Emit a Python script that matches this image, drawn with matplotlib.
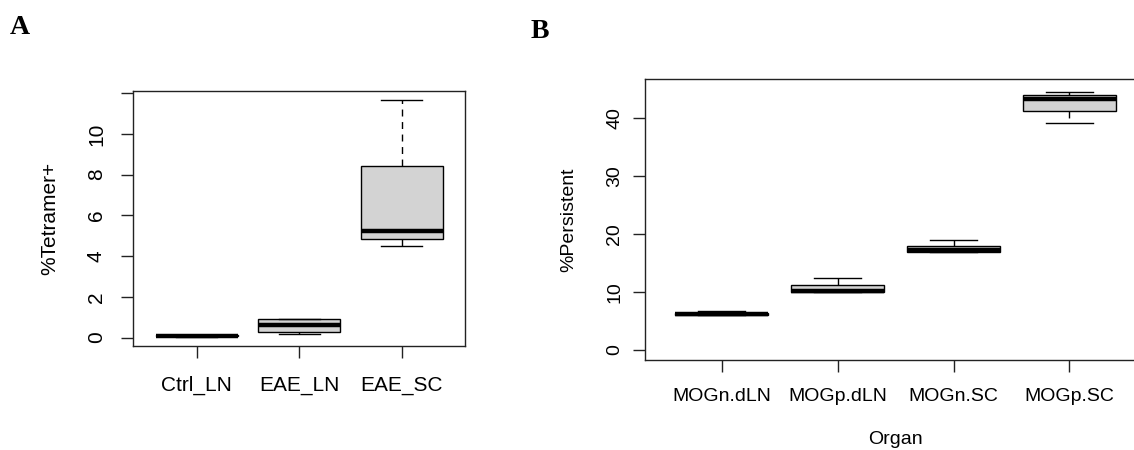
"""Two R-style boxplot panels: %Tetramer+ by group (A), %Persistent by organ (B)."""

import matplotlib

matplotlib.use("Agg")
import matplotlib.pyplot as plt

# ---------------------------------------------------------------------------
# Data (five-number summaries)
# ---------------------------------------------------------------------------
groups_a = ["Ctrl_LN", "EAE_LN", "EAE_SC"]
low_a = [0.05, 0.20, 4.48]
q1_a = [0.08, 0.28, 4.84]
med_a = [0.10, 0.63, 5.22]
q3_a = [0.12, 0.90, 8.42]
high_a = [0.15, 0.92, 11.64]
yticks_a = [0, 2, 4, 6, 8, 10, 12]
yticklabels_a = ["0", "2", "4", "6", "8", "10", ""]

organs_b = ["MOGn.dLN", "MOGp.dLN", "MOGn.SC", "MOGp.SC"]
low_b = [5.9, 9.9, 16.8, 39.2]
q1_b = [6.0, 10.0, 16.9, 41.35]
med_b = [6.1, 10.15, 17.2, 43.4]
q3_b = [6.25, 11.25, 18.0, 44.0]
high_b = [6.6, 12.3, 18.9, 44.5]
yticks_b = [0, 10, 20, 30, 40]

FONT = "Liberation Sans"
GREY = "#d3d3d3"


def _stats(labels, lo, q1, med, q3, hi):
    return [
        dict(label=l, whislo=a, q1=b, med=c, q3=d, whishi=e, fliers=[])
        for l, a, b, c, d, e in zip(labels, lo, q1, med, q3, hi)
    ]


def _boxplot(ax, stats):
    ax.bxp(
        stats,
        widths=0.8,
        patch_artist=True,
        showfliers=False,
        boxprops=dict(facecolor=GREY, edgecolor="black", linewidth=1.0),
        medianprops=dict(color="black", linewidth=3.2, solid_capstyle="butt"),
        whiskerprops=dict(color="black", linewidth=1.0, linestyle=(0, (5, 4))),
        capprops=dict(color="black", linewidth=1.0),
    )
    for sp in ax.spines.values():
        sp.set_linewidth(1.0)
        sp.set_color("#222222")
    ax.tick_params(direction="out", length=8.5, width=1.0, color="#222222")


def _rlim(lo, hi):
    # R pads the data range by 4% on each side
    pad = (hi - lo) * 0.04
    return lo - pad, hi + pad


fig = plt.figure(figsize=(11.34, 4.5), dpi=100)

# Panel A
ax_a = fig.add_axes([0.1173, 0.2311, 0.2928, 0.5667])
_boxplot(ax_a, _stats(groups_a, low_a, q1_a, med_a, q3_a, high_a))
ax_a.set_xlim(*_rlim(0.5, len(groups_a) + 0.5))
ax_a.set_ylim(*_rlim(min(low_a), max(high_a)))
ax_a.set_yticks(yticks_a)
ax_a.set_yticklabels(yticklabels_a, rotation=90, va="center", family=FONT, fontsize=15)
ax_a.set_xticks(range(1, len(groups_a) + 1))
ax_a.set_xticklabels(groups_a, family=FONT, fontsize=15)
ax_a.tick_params(axis="y", pad=11)
ax_a.tick_params(axis="x", pad=13)
ax_a.set_ylabel("%Tetramer+", family=FONT, fontsize=15, labelpad=20)

# Panel B (right edge runs past the image, as in the original crop)
ax_b = fig.add_axes([0.5688, 0.2, 0.4418, 0.6244])
_boxplot(ax_b, _stats(organs_b, low_b, q1_b, med_b, q3_b, high_b))
ax_b.set_xlim(*_rlim(0.5, len(organs_b) + 0.5))
ax_b.set_ylim(*_rlim(0, 45))
ax_b.set_yticks(yticks_b)
ax_b.set_yticklabels([str(t) for t in yticks_b], rotation=90, va="center",
                     family=FONT, fontsize=14)
ax_b.set_xticks(range(1, len(organs_b) + 1))
ax_b.set_xticklabels(organs_b, family=FONT, fontsize=14)
ax_b.tick_params(axis="y", pad=7)
ax_b.tick_params(axis="x", pad=11.5)
ax_b.set_ylabel("%Persistent", family=FONT, fontsize=14, labelpad=21)
ax_b.set_xlabel("Organ", family=FONT, fontsize=14, labelpad=19)

# Panel letters
fig.text(20 / 1134, 1 - 27 / 450, "A", family="Liberation Serif", weight="bold",
         fontsize=20, ha="center", va="center")
fig.text(540 / 1134, 1 - 31 / 450, "B", family="Liberation Serif", weight="bold",
         fontsize=20, ha="center", va="center")

fig.savefig("out.png", dpi=100)
